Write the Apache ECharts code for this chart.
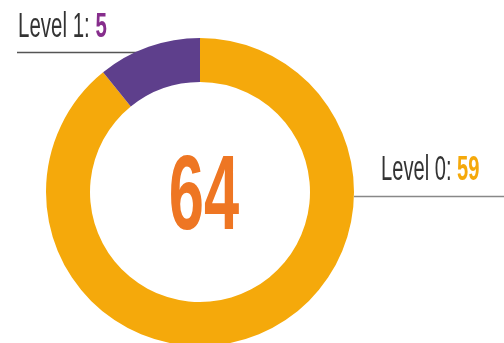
<!DOCTYPE html>
<html>
<head>
<meta charset="utf-8">
<script src="https://cdn.jsdelivr.net/npm/echarts@6/dist/echarts.min.js"></script>
<style>
html,body{margin:0;padding:0;background:#fff;}
#chart{width:504px;height:343px;}
</style>
</head>
<body>
<div id="chart"></div>
<script>
const categories = ['Level 0', 'Level 1'];
const values = [59, 5];

const total = values.reduce((a, b) => a + b, 0);
const sliceColors = ['#F5A90B', '#5E3F8C'];
const valueColors = ['#F5A90B', '#862D8C'];
const FONT = '"Liberation Sans", Arial, sans-serif';

const chart = echarts.init(document.getElementById('chart'), null, {renderer: 'canvas'});

function labelText(i, x, y, sx) {
  return {
    type: 'text', x: x, y: y, scaleX: sx, silent: true,
    style: {
      text: '{a|' + categories[i] + ': }{b|' + values[i] + '}',
      textAlign: 'left', textVerticalAlign: 'middle',
      rich: {
        a: {fontFamily: FONT, fontSize: 35, fontWeight: 'normal', fill: '#333333'},
        b: {fontFamily: FONT, fontSize: 35, fontWeight: 'bold', fill: valueColors[i]}
      }
    }
  };
}

chart.setOption({
  animation: false,
  backgroundColor: '#ffffff',
  series: [{
    type: 'pie',
    center: [200, 192],
    radius: [110, 154],
    startAngle: 90,
    clockwise: true,
    minAngle: 39,
    avoidLabelOverlap: false,
    label: {show: false},
    labelLine: {show: false},
    emphasis: {disabled: true},
    data: categories.map((c, i) => ({
      name: c, value: values[i], itemStyle: {color: sliceColors[i]}
    }))
  }],
  graphic: [
    labelText(1, 18, 27, 0.585),
    labelText(0, 381, 170, 0.575),
    {type: 'line', silent: true, shape: {x1: 17, y1: 52.5, x2: 138, y2: 52.5},
     style: {stroke: '#555555', lineWidth: 1.5}},
    {type: 'line', silent: true, shape: {x1: 354, y1: 196.5, x2: 504, y2: 196.5},
     style: {stroke: '#888888', lineWidth: 1.5}},
    {type: 'text', x: 204, y: 200, scaleX: 0.62, scaleY: 1.03, silent: true,
     style: {text: String(total), textAlign: 'center', textVerticalAlign: 'middle',
             fontFamily: FONT, fontSize: 102, fontWeight: 'bold', fill: '#EE7623'}}
  ]
});
</script>
</body>
</html>
